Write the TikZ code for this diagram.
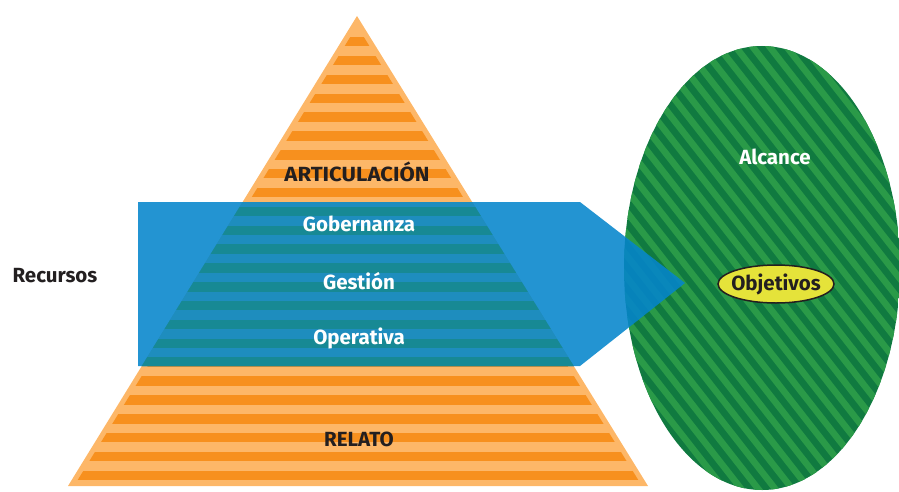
\documentclass[tikz,border=0pt]{standalone}
\usepackage{fontspec}
\setmainfont{Fira Sans}
\usetikzlibrary{shapes.geometric}
\definecolor{orL}{RGB}{253,183,104}
\definecolor{orD}{RGB}{247,144,30}
\definecolor{blueB}{RGB}{5,133,204}
\definecolor{tealL}{RGB}{30,141,190}
\definecolor{tealD}{RGB}{23,137,148}
\definecolor{grD}{RGB}{16,122,64}
\definecolor{grL}{RGB}{42,154,72}
\definecolor{txtD}{RGB}{35,31,32}
\definecolor{yel}{RGB}{229,227,58}
\tikzset{
  lbl/.style={font=\fontsize{20.5}{22}\selectfont\bfseries, inner sep=0pt},
  lblw/.style={lbl, text=white},
  lbld/.style={lbl, text=txtD},
}
\begin{document}
\begin{tikzpicture}[x=1pt,y=-1pt]
\useasboundingbox (0,0) rectangle (899,492);
% ellipse
\begin{scope}
  \clip (762,268) ellipse [x radius=138, y radius=222];
  \fill[grD] (600,30) rectangle (910,500);
  \foreach \k in {0,...,41}{
    \draw[grL, line width=6.5pt] ({240+17*\k-0.616*700},{-0.788*700}) -- ({240+17*\k+0.616*700},{0.788*700});
  }
\end{scope}
% pyramid
\fill[orL] (357,16) -- (68,486) -- (648,486) -- cycle;
\begin{scope}
  \clip (357,26) -- (74,486) -- (642,486) -- cycle;
  \foreach \k in {0,...,23}{
    \fill[orD] (60,{37+18.85*\k}) rectangle (660,{46.5+18.85*\k});
  }
\end{scope}
% blue arrow
\fill[blueB, fill opacity=0.88] (138,202) -- (580,202) -- (685,283) -- (580,366) -- (138,366) -- cycle;
\begin{scope}
  \clip (138,202) -- (580,202) -- (685,283) -- (580,366) -- (138,366) -- cycle;
  \clip (357,16) -- (68,486) -- (648,486) -- cycle;
  \fill[tealL] (60,190) rectangle (700,380);
  \foreach \k in {9,...,17}{
    \fill[tealD] (60,{37+18.85*\k}) rectangle (660,{46.5+18.85*\k});
  }
\end{scope}
% labels
\node[lbld] (art) at (357,172) {\scalebox{1.08}[1]{ARTICULACIÓN}};
\node[lblw] (gob) at (359,224) {Gobernanza};
\node[lblw] (ges) at (359,281) {Gestión};
\node[lblw] (ope) at (359,338) {Operativa};
\node[lbld] (rel) at (359,439) {RELATO};
\node[lbld] (rec) at (55,276) {Recursos};
\node[lblw] (alc) at (775,157) {Alcance};
\node[ellipse, draw=txtD, line width=1.5pt, fill=yel, minimum width=116pt, minimum height=38pt, lbld, inner xsep=-6pt, inner ysep=-6pt] (obj) at (776,284) {Objetivos};
\end{tikzpicture}
\end{document}
